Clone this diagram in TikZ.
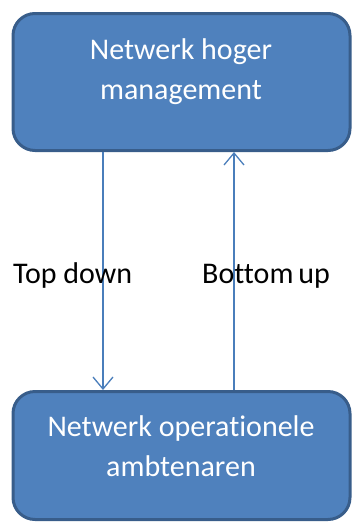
\documentclass[tikz,border=0pt]{standalone}
\usepackage{fontspec}
\setmainfont[Ligatures=NoCommon]{Carlito}
\usetikzlibrary{arrows.meta}
\definecolor{boxfill}{HTML}{4F81BD}
\definecolor{boxline}{HTML}{385D8A}
\definecolor{arrowc}{HTML}{4A7EBB}
\tikzset{
  netbox/.style={draw=boxline, fill=boxfill, line width=3pt, rounded corners=22pt, rectangle, inner sep=0pt},
  boxtext/.style={text=white, align=center, anchor=base, font=\fontsize{30}{40}\selectfont, inner sep=0pt},
  lbl/.style={text=black, anchor=base west, font=\fontsize{30}{36}\selectfont, inner sep=0pt},
  conn/.style={draw=arrowc, line width=1.3pt, -{Straight Barb[length=12pt,width=20pt,line width=1.3pt]}}
}
\begin{document}
\begin{tikzpicture}[x=1pt,y=-1pt]
\useasboundingbox (0,0) rectangle (353,523);
\node[netbox, minimum width=337pt, minimum height=137pt] (top) at (181.5,82) {};
\node[netbox, minimum width=337pt, minimum height=128pt] (bot) at (181.5,455.5) {};
\node[boxtext] (toptext) at (181,99) {Netwerk hoger\\management};
\node[boxtext] (bottext) at (181,476) {Netwerk operationele\\ambtenaren};
\coordinate (ldx) at (103,0);
\coordinate (rdx) at (234,0);
\draw[conn] (top.south -| ldx) -- (bot.north -| ldx);
\draw[conn] (bot.north -| rdx) -- (top.south -| rdx);
\node[lbl] (td) at (13,283) {Top down};
\node[lbl] (bu) at (202,283) {Bottom\kern-2pt\ up};
\end{tikzpicture}
\end{document}
